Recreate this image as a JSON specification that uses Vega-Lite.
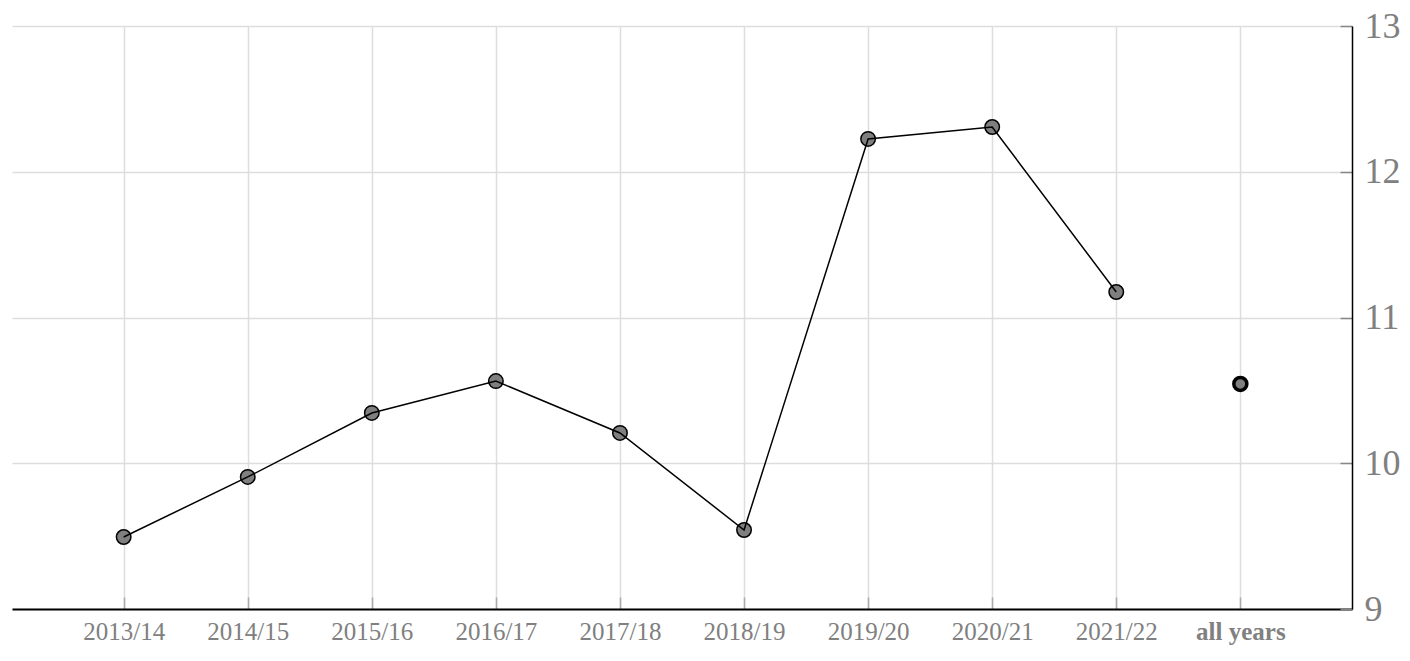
{
  "$schema": "https://vega.github.io/schema/vega-lite/v6.json",
  "width": 1340,
  "height": 583,
  "autosize": {"type": "none"},
  "padding": {"left": 12, "top": 26, "right": 58, "bottom": 52},
  "background": "white",
  "config": {
    "view": {"stroke": null},
    "font": "Liberation Serif"
  },
  "data": {
    "values": [
      {"year": "2013/14", "value": 9.494, "kind": "year"},
      {"year": "2014/15", "value": 9.906, "kind": "year"},
      {"year": "2015/16", "value": 10.345, "kind": "year"},
      {"year": "2016/17", "value": 10.564, "kind": "year"},
      {"year": "2017/18", "value": 10.208, "kind": "year"},
      {"year": "2018/19", "value": 9.542, "kind": "year"},
      {"year": "2019/20", "value": 12.225, "kind": "year"},
      {"year": "2020/21", "value": 12.307, "kind": "year"},
      {"year": "2021/22", "value": 11.175, "kind": "year"},
      {"year": "all years", "value": 10.544, "kind": "all"}
    ]
  },
  "encoding": {
    "x": {
      "field": "year",
      "type": "ordinal",
      "sort": null,
      "scale": {"type": "point", "padding": 0.9},
      "axis": {
        "title": null,
        "labelAngle": 0,
        "labelFont": "Liberation Serif",
        "labelFontSize": 25,
        "labelColor": "#808080",
        "labelFontWeight": {"condition": {"test": "datum.value == 'all years'", "value": "bold"}, "value": "normal"},
        "labelPadding": 22,
        "tickSize": -12,
        "tickColor": "#aaaaaa",
        "tickWidth": 1.5,
        "domainColor": "#000000",
        "domainWidth": 2,
        "grid": true,
        "gridColor": "#dddddd",
        "gridWidth": 1.5
      }
    },
    "y": {
      "field": "value",
      "type": "quantitative",
      "scale": {"domain": [9, 13], "nice": false, "zero": false},
      "axis": {
        "orient": "right",
        "title": null,
        "values": [9, 10, 11, 12, 13],
        "labelFont": "Liberation Serif",
        "labelFontSize": 36,
        "labelColor": "#808080",
        "labelPadding": 24,
        "tickSize": -12,
        "tickColor": "#888888",
        "tickWidth": 1.5,
        "domainColor": "#000000",
        "domainWidth": 1.5,
        "grid": true,
        "gridColor": "#dddddd",
        "gridWidth": 1.5
      }
    }
  },
  "layer": [
    {
      "transform": [{"filter": "datum.kind == 'year'"}],
      "mark": {"type": "point", "shape": "circle", "filled": true, "size": 210, "fill": "#7f7f7f", "stroke": "#000000", "strokeWidth": 1.5, "opacity": 1}
    },
    {
      "transform": [{"filter": "datum.kind == 'all'"}],
      "mark": {"type": "point", "shape": "circle", "filled": true, "size": 170, "fill": "#7f7f7f", "stroke": "#000000", "strokeWidth": 3.5, "opacity": 1}
    },
    {
      "transform": [{"filter": "datum.kind == 'year'"}],
      "mark": {"type": "line", "color": "#000000", "strokeWidth": 1.5}
    }
  ]
}
